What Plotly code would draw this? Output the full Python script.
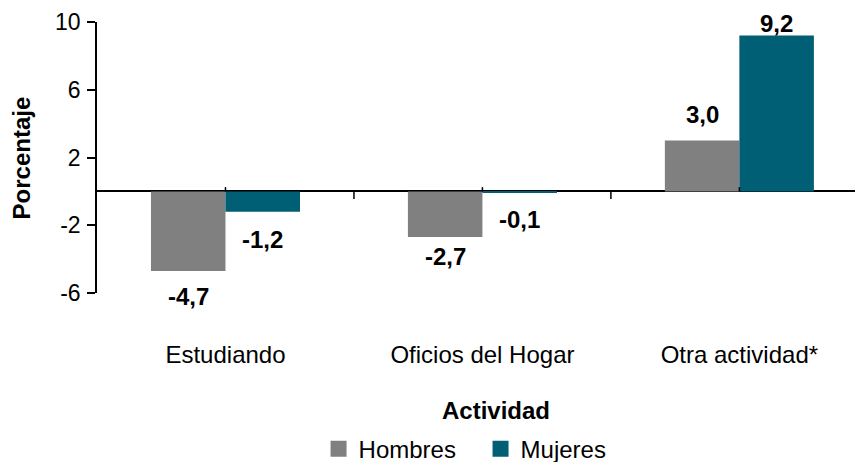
import plotly.graph_objects as go

categories = ["Estudiando", "Oficios del Hogar", "Otra actividad*"]
hombres = [-4.7, -2.7, 3.0]
mujeres = [-1.2, -0.1, 9.2]
series_names = ["Hombres", "Mujeres"]
y_ticks = [-6, -2, 2, 6, 10]
y_tick_labels = ["-6", "-2", "2", "6", "10"]

# styling
colors = ["#808080", "#005E75"]
FONT = "Liberation Sans, Arial, sans-serif"
FS = 24
label_offsets = [[26, 19, 26], [28, 26, 12]]  # px gap of label centre from bar end
bar_shift = [-37, 37]

def fmt(v):
    return f"{v:.1f}".replace(".", ",")

fig = go.Figure()
for name, vals, col in zip(series_names, [hombres, mujeres], colors):
    fig.add_trace(go.Bar(x=categories, y=vals, name=name, marker=dict(color=col, line=dict(width=0)),
                         showlegend=False))
# legend proxies with bigger squares
for name, col in zip(series_names, colors):
    fig.add_trace(go.Scatter(x=[None], y=[None], mode="markers", name=name,
                             marker=dict(symbol="square", size=17, color=col)))

annotations = []
for si, vals in enumerate([hombres, mujeres]):
    for ci, v in enumerate(vals):
        off = label_offsets[si][ci]
        annotations.append(dict(x=categories[ci], y=v, xref="x", yref="y", text=fmt(v),
                                showarrow=False, xshift=bar_shift[si],
                                yshift=off if v >= 0 else -off, yanchor="middle",
                                font=dict(family=FONT, size=FS, color="black", weight="bold")))

annotations.append(dict(x=-0.099, y=0.5, xref="paper", yref="paper", text="Porcentaje",
                        textangle=-90, showarrow=False, xanchor="center", yanchor="middle",
                        font=dict(family=FONT, size=FS, color="black", weight="bold")))
annotations.append(dict(x=0.526, y=-0.432, xref="paper", yref="paper", text="Actividad",
                        showarrow=False, xanchor="center", yanchor="middle",
                        font=dict(family=FONT, size=FS, color="black", weight="bold")))

shapes = []
for i in range(len(categories)):
    shapes.append(dict(type="line", xref="x", yref="y", x0=i, x1=i, y0=0, y1=0.25,
                       line=dict(color="black", width=1.5)))
for i in range(len(categories) - 1):
    shapes.append(dict(type="line", xref="x", yref="y", x0=i + 0.5, x1=i + 0.5, y0=0, y1=-0.45,
                       line=dict(color="black", width=1.5)))

fig.update_layout(
    width=859, height=462,
    margin=dict(l=97, r=4, t=22, b=169, autoexpand=False),
    paper_bgcolor="white", plot_bgcolor="white",
    barmode="group", bargap=0.42, bargroupgap=0,
    font=dict(family=FONT, size=FS, color="black"),
    annotations=annotations,
    shapes=shapes,
    legend=dict(orientation="h", x=0.506, xanchor="center", y=-0.576, yanchor="middle",
                font=dict(family=FONT, size=FS, color="black"), itemwidth=30,
                entrywidth=117, entrywidthmode="pixels",
                bgcolor="rgba(0,0,0,0)", tracegroupgap=0),
    xaxis=dict(range=[-0.5, 2.45], showline=False, ticks="", showgrid=False, zeroline=False,
               tickfont=dict(family=FONT, size=FS, color="black"), ticklabelstandoff=45),
    yaxis=dict(range=[-6, 10], tickvals=y_ticks, ticktext=y_tick_labels, showgrid=False,
               showline=True, linecolor="black", linewidth=1.5, ticks="outside", ticklen=8,
               tickwidth=1.5, tickcolor="black", zeroline=True, zerolinecolor="black",
               zerolinewidth=1.5, tickfont=dict(family=FONT, size=23, color="black"),
               ticklabelstandoff=2),
)

fig.write_html("out.html", config={"displayModeBar": False},
               post_script="document.body.style.margin='0';")
